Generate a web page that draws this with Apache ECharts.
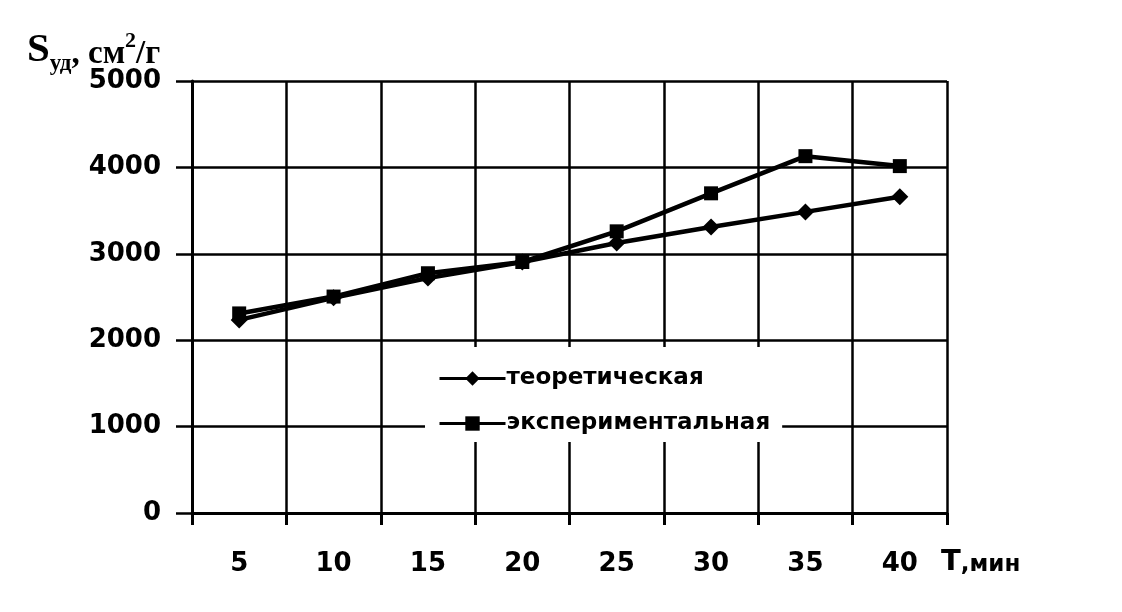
<!DOCTYPE html>
<html>
<head>
<meta charset="utf-8">
<script src="https://cdn.jsdelivr.net/npm/echarts@6/dist/echarts.min.js"></script>
<style>html,body{margin:0;padding:0;background:#fff}#c{width:1122px;height:612px}</style>
</head>
<body>
<div id="c"></div>
<script>
var categories = ['5', '10', '15', '20', '25', '30', '35', '40'];
var theoretical = [2235, 2490, 2720, 2905, 3125, 3310, 3485, 3660];
var experimental = [2310, 2505, 2775, 2905, 3260, 3700, 4130, 4015];
var yTicks = [0, 1000, 2000, 3000, 4000, 5000];
var seriesNames = ['теоретическая', 'экспериментальная'];

var chart = echarts.init(document.getElementById('c'));
var sans = 'DejaVu Sans';
var serif = 'Liberation Serif';
chart.setOption({
  backgroundColor: '#fff',
  animation: false,
  title: [{
    left: 22, top: 25,
    text: '{s|S}{sub|уд}{n|, см}{sup|2}{n|/г}',
    textStyle: {
      rich: {
        s: {fontFamily: serif, fontWeight: 'bold', fontSize: 41, color: '#000', verticalAlign: 'bottom'},
        sub: {fontFamily: serif, fontWeight: 'bold', fontSize: 23, color: '#000', verticalAlign: 'bottom', padding: [0, 0, -5, 0]},
        n: {fontFamily: serif, fontWeight: 'bold', fontSize: 33, color: '#000', verticalAlign: 'bottom'},
        sup: {fontFamily: serif, fontWeight: 'bold', fontSize: 22, color: '#000', verticalAlign: 'top', padding: [0, 0, 18, 0]}
      }
    }
  }, {
    left: 936, top: 543,
    text: '{t|T}{m|,мин}',
    textStyle: {
      rich: {
        t: {fontFamily: sans, fontWeight: 'bold', fontSize: 29, color: '#000', verticalAlign: 'bottom'},
        m: {fontFamily: sans, fontWeight: 'bold', fontSize: 23, color: '#000', verticalAlign: 'bottom'}
      }
    }
  }],
  legend: {
    orient: 'vertical',
    left: 425, top: 347,
    padding: [20, 12, 7, 13],
    backgroundColor: '#fff',
    itemWidth: 66, itemHeight: 18, itemGap: 22,
    lineStyle: {width: 3},
    textStyle: {fontFamily: sans, fontWeight: 'bold', fontSize: 23, color: '#000', padding: [0, 0, 0, -4]},
    data: seriesNames
  },
  grid: {left: 192, right: 175, top: 81, bottom: 99},
  xAxis: {
    type: 'category',
    data: categories,
    boundaryGap: true,
    axisLine: {lineStyle: {color: '#000', width: 3}},
    axisTick: {show: true, length: 12, lineStyle: {color: '#000', width: 3}},
    splitLine: {show: true, lineStyle: {color: '#000', width: 2.5}},
    axisLabel: {fontFamily: sans, fontWeight: 'bold', fontSize: 26, color: '#000', margin: 38}
  },
  yAxis: {
    type: 'value',
    min: yTicks[0], max: yTicks[yTicks.length - 1], interval: 1000,
    axisLine: {show: true, lineStyle: {color: '#000', width: 3}},
    axisTick: {show: true, length: 16, lineStyle: {color: '#000', width: 2.5}},
    splitLine: {show: true, lineStyle: {color: '#000', width: 2.5}},
    axisLabel: {fontFamily: sans, fontWeight: 'bold', fontSize: 26, color: '#000', margin: 31,
      formatter: function (v) { return String(v); }}
  },
  series: [{
    name: seriesNames[0],
    type: 'line',
    data: theoretical,
    symbol: 'diamond',
    symbolSize: 17,
    lineStyle: {color: '#000', width: 4.5},
    itemStyle: {color: '#000'}
  }, {
    name: seriesNames[1],
    type: 'line',
    data: experimental,
    symbol: 'rect',
    symbolSize: 14,
    lineStyle: {color: '#000', width: 4.5},
    itemStyle: {color: '#000'}
  }]
});
</script>
</body>
</html>
